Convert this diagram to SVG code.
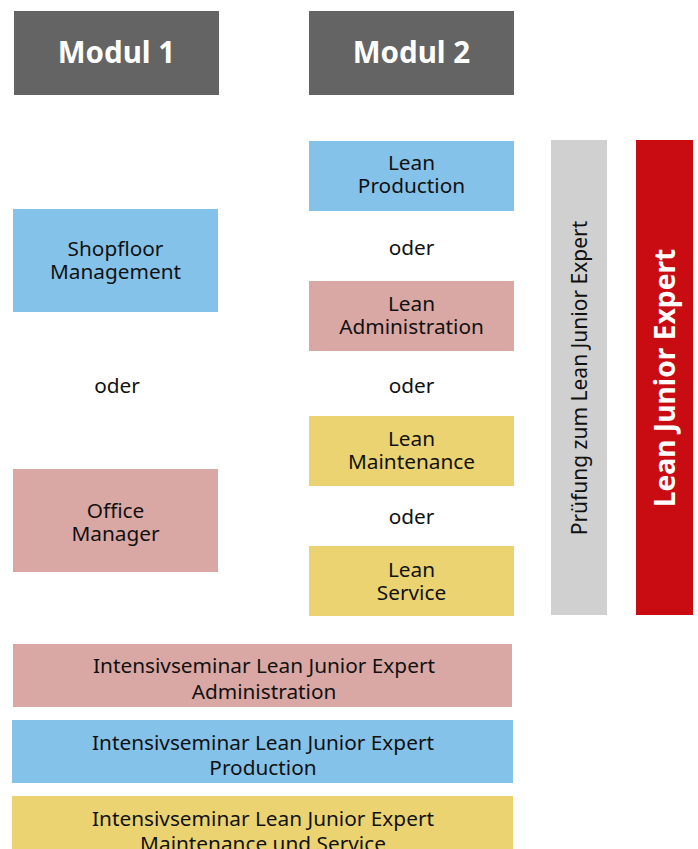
<svg xmlns="http://www.w3.org/2000/svg" width="698" height="849" viewBox="0 0 698 849">
<style>
.t{font-family:"Noto Sans","Open Sans",sans-serif;font-size:20.8px;fill:#111;text-anchor:middle}
.h{font-family:"Noto Sans","Open Sans",sans-serif;font-size:29.5px;font-weight:bold;fill:#fff;text-anchor:middle}
.blue{fill:#85c2ea}.pink{fill:#daa8a4}.yel{fill:#ecd372}.dark{fill:#646464}
</style>
<rect width="698" height="849" fill="#fff"/>
<g id="modul1"><rect class="dark" x="14" y="11" width="205" height="84"/><text class="h" x="116.5" y="63">Modul 1</text></g>
<g id="modul2"><rect class="dark" x="309" y="11" width="205" height="84"/><text class="h" x="411.5" y="63">Modul 2</text></g>
<g id="lean-production"><rect class="blue" x="309" y="141" width="205" height="70"/><text class="t" x="411.5" y="170">Lean</text><text class="t" x="411.5" y="193">Production</text></g>
<g id="oder1"><text class="t" x="411.5" y="255">oder</text></g>
<g id="lean-administration"><rect class="pink" x="309" y="281" width="205" height="70"/><text class="t" x="411.5" y="311">Lean</text><text class="t" x="411.5" y="334">Administration</text></g>
<g id="oder2"><text class="t" x="411.5" y="393">oder</text></g>
<g id="lean-maintenance"><rect class="yel" x="309" y="416" width="205" height="70"/><text class="t" x="411.5" y="446">Lean</text><text class="t" x="411.5" y="469">Maintenance</text></g>
<g id="oder3"><text class="t" x="411.5" y="524">oder</text></g>
<g id="lean-service"><rect class="yel" x="309" y="546" width="205" height="70"/><text class="t" x="411.5" y="577">Lean</text><text class="t" x="411.5" y="600">Service</text></g>
<g id="shopfloor"><rect class="blue" x="13" y="209" width="205" height="103"/><text class="t" x="115.5" y="256">Shopfloor</text><text class="t" x="115.5" y="279">Management</text></g>
<g id="oder-left"><text class="t" x="117" y="393">oder</text></g>
<g id="office-manager"><rect class="pink" x="13" y="469" width="205" height="103"/><text class="t" x="115.5" y="518">Office</text><text class="t" x="115.5" y="541">Manager</text></g>
<g id="pruefung"><rect x="551" y="140" width="56" height="475" fill="#d0d0d0"/><text class="t" transform="translate(587,378) rotate(-90)" x="0" y="0" style="font-size:21px">Prüfung zum Lean Junior Expert</text></g>
<g id="lean-junior-expert"><rect x="636" y="140" width="57" height="475" fill="#c80c12"/><text class="h" transform="translate(675,378) rotate(-90)" x="0" y="0" style="font-size:28.2px">Lean Junior Expert</text></g>
<g id="seminar-admin"><rect class="pink" x="13" y="644" width="499" height="63"/><text class="t" x="264" y="673">Intensivseminar Lean Junior Expert</text><text class="t" x="264" y="699">Administration</text></g>
<g id="seminar-production"><rect class="blue" x="12" y="720" width="501" height="63"/><text class="t" x="263" y="750">Intensivseminar Lean Junior Expert</text><text class="t" x="263" y="775">Production</text></g>
<g id="seminar-maintenance"><rect class="yel" x="12" y="796" width="501" height="63"/><text class="t" x="263" y="826">Intensivseminar Lean Junior Expert</text><text class="t" x="263" y="851">Maintenance und Service</text></g>
<g id="connectors"></g>
</svg>
